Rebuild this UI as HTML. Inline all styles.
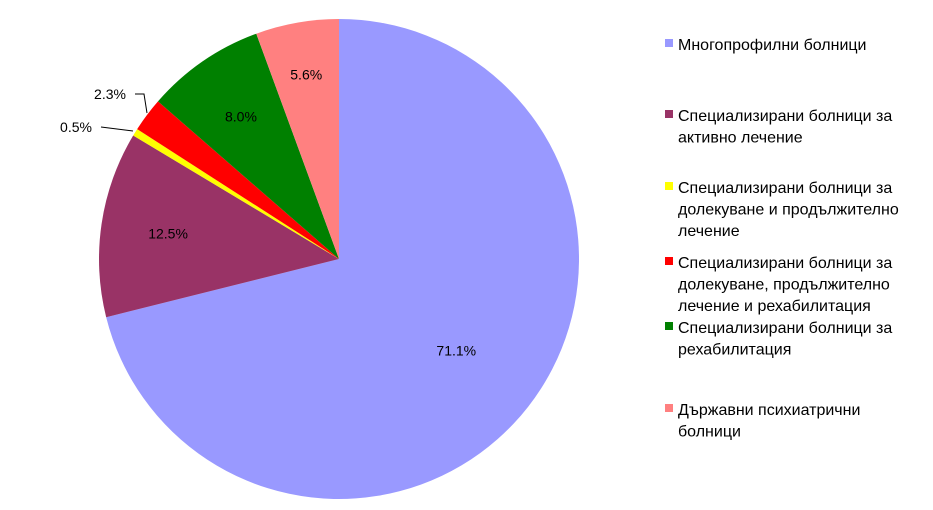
<!DOCTYPE html>
<html><head><meta charset="utf-8">
<style>
body{margin:0;background:#fff;}
svg text{font-family:"Liberation Sans",Arial,sans-serif;}
</style></head>
<body>
<svg id="chart" width="933" height="505" viewBox="0 0 933 505" xmlns="http://www.w3.org/2000/svg"></svg>
<script>
const categories = [
  ["Многопрофилни болници"],
  ["Специализирани болници за","активно лечение"],
  ["Специализирани болници за","долекуване и продължително","лечение"],
  ["Специализирани болници за","долекуване, продължително","лечение  и рехабилитация"],
  ["Специализирани болници за","рехабилитация"],
  ["Държавни психиатрични","болници"]
];
const values = [71.1, 12.5, 0.5, 2.3, 8.0, 5.6];
const valueLabels = ["71.1%","12.5%","0.5%","2.3%","8.0%","5.6%"];
const colors = ["#9999FF","#993366","#FFFF00","#FF0000","#008000","#FF8080"];
const legendY = [44, 115, 187, 262, 327, 409];

const svg = document.getElementById('chart');
const NS = "http://www.w3.org/2000/svg";
const cx = 339, cy = 259, r = 240;
const total = values.reduce((a,b)=>a+b,0);
function angle(v){ return v/total*2*Math.PI; }
function pt(a, rr){ return [cx + rr*Math.sin(a), cy - rr*Math.cos(a)]; }

let acc = 0;
values.forEach((v,i)=>{
  const a0 = angle(acc), a1 = angle(acc+v);
  const p0 = pt(a0,r), p1 = pt(a1,r);
  const large = (a1-a0) > Math.PI ? 1 : 0;
  const path = document.createElementNS(NS,'path');
  path.setAttribute('d',`M${cx},${cy} L${p0[0]},${p0[1]} A${r},${r} 0 ${large} 1 ${p1[0]},${p1[1]} Z`);
  path.setAttribute('fill',colors[i]);
  
  
  svg.appendChild(path);
  acc += v;
});

// labels
acc = 0;
const labelR = [0.62, 0.72, 1.12, 1.12, 0.72, 0.78];
values.forEach((v,i)=>{
  const am = angle(acc + v/2);
  let p = pt(am, r*labelR[i]);
  if(i===2){ p=[76,127]; }
  if(i===3){ p=[110,94]; }
  const t = document.createElementNS(NS,'text');
  t.setAttribute('x',p[0]); t.setAttribute('y',p[1]+5);
  t.setAttribute('text-anchor','middle');
  t.setAttribute('font-size','14');
  t.setAttribute('fill','#000');
  t.textContent = valueLabels[i];
  
  
  svg.appendChild(t);
  acc += v;
});

// leader lines
[["M101,127 L133,131"],["M135,94 L144,94 L147,113"]].forEach((d,i)=>{
  const l = document.createElementNS(NS,'path');
  l.setAttribute('d',d[0]); l.setAttribute('stroke','#000'); l.setAttribute('fill','none'); l.setAttribute('stroke-width','1');
  
  
  svg.appendChild(l);
});

// legend
categories.forEach((lines,i)=>{
  const g = document.createElementNS(NS,'g');
  
  
  const sq = document.createElementNS(NS,'rect');
  sq.setAttribute('x',665); sq.setAttribute('y',legendY[i]-5);
  sq.setAttribute('width',8); sq.setAttribute('height',8);
  sq.setAttribute('fill',colors[i]);
  g.appendChild(sq);
  lines.forEach((ln,j)=>{
    const t = document.createElementNS(NS,'text');
    t.setAttribute('x',678); t.setAttribute('y',legendY[i]+6+j*21.5);
    t.setAttribute('font-size','16'); t.setAttribute('fill','#000');
    t.textContent = ln;
    g.appendChild(t);
  });
  svg.appendChild(g);
});
</script>
</body></html>
